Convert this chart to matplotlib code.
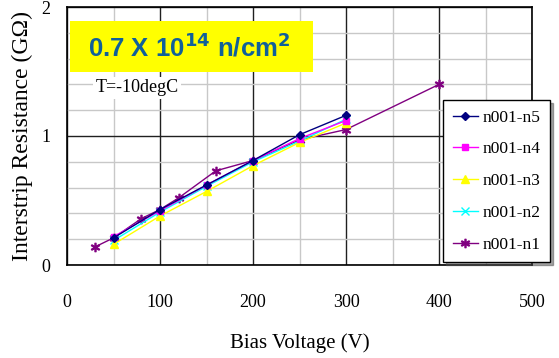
import numpy as np
import matplotlib
matplotlib.use('Agg')
import matplotlib.pyplot as plt
from matplotlib.ticker import MultipleLocator
from matplotlib.patches import Rectangle

plt.rcParams['font.family'] = ['Liberation Serif', 'DejaVu Serif']

# bias voltage (V) and interstrip resistance (GOhm) per strip
v_std = [50, 100, 150, 200, 250, 300]
r_n5 = [0.21, 0.43, 0.62, 0.81, 1.01, 1.16]
r_n4 = [0.22, 0.42, 0.62, 0.81, 0.98, 1.12]
r_n3 = [0.16, 0.38, 0.57, 0.77, 0.95, 1.10]
r_n2 = [0.19, 0.41, 0.61, 0.80, 0.96, 1.13]
v_n1 = [30, 50, 80, 100, 120, 160, 200, 250, 300, 400]
r_n1 = [0.14, 0.21, 0.36, 0.43, 0.52, 0.73, 0.81, 0.97, 1.05, 1.40]

names = ['n001-n5', 'n001-n4', 'n001-n3', 'n001-n2', 'n001-n1']
colors = ['#000080', '#ff00ff', '#ffff00', '#00ffff', '#800080']
markers = ['D', 's', '^', 'x', '$*$']

fig = plt.figure(figsize=(5.59, 3.58), dpi=100)
ax = fig.add_axes([67 / 559, 93 / 358, 465 / 559, 258 / 358])

series = [(v_std, r_n5), (v_std, r_n4), (v_std, r_n3), (v_std, r_n2), (v_n1, r_n1)]
handles = []
for i, (xs, ys) in enumerate(series):
    ms = 4 if markers[i] in ('D', 's') else 6
    h, = ax.plot(xs, ys, color=colors[i], marker=markers[i], ms=ms, lw=1,
                 mew=1, zorder=3 + (4 - i) * 0.1, label=names[i])
    handles.append(h)

ax.set_xlim(0, 500)
ax.set_ylim(0, 2)
ax.xaxis.set_major_locator(MultipleLocator(100))
ax.xaxis.set_minor_locator(MultipleLocator(50))
ax.yaxis.set_major_locator(MultipleLocator(1))
ax.yaxis.set_minor_locator(MultipleLocator(0.2))
ax.grid(which='minor', color='#c8c8c8', lw=1)
ax.grid(which='major', color='#202020', lw=1)
ax.set_axisbelow(True)
ax.tick_params(which='both', length=0, labelsize=13)
ax.tick_params(axis='x', pad=21)
ax.tick_params(axis='y', pad=12)
for s in ax.spines.values():
    s.set_linewidth(1.2)
    s.set_color('black')

ax.set_xlabel('Bias Voltage (V)', fontsize=15, labelpad=16)
ax.set_ylabel('Interstrip Resistance (G\u03a9)', fontsize=17, labelpad=6)

# yellow fluence label
fig.patches.append(Rectangle((70 / 559, 1 - 72 / 358), 243 / 559, 51 / 358,
                             transform=fig.transFigure, facecolor='#ffff00',
                             edgecolor='none', zorder=5))
fig.text(189 / 559, 1 - 47 / 358, r'0.7 X 10$^{\mathbf{14}}$ n/cm$^{\mathbf{2}}$',
         ha='center', va='center', fontsize=18.5,
         fontweight='bold', family='Liberation Sans', color='#10609a', zorder=6)
fig.text(137 / 559, 1 - 88 / 358, 'T=-10degC',
         ha='center', va='center', fontsize=13,
         bbox=dict(boxstyle='square,pad=0.15', facecolor='white', edgecolor='none'),
         zorder=6)

leg = fig.legend(handles, names, loc='upper left', bbox_to_anchor=(443 / 559, 1 - 100 / 358),
                 fontsize=12.5, frameon=True, fancybox=False, shadow=True,
                 edgecolor='black', framealpha=1, borderpad=0.55, labelspacing=0.9,
                 handlelength=1.45, handletextpad=0.3, borderaxespad=0)
leg.get_frame().set_linewidth(1)

fig.savefig('out.png', dpi=100)
